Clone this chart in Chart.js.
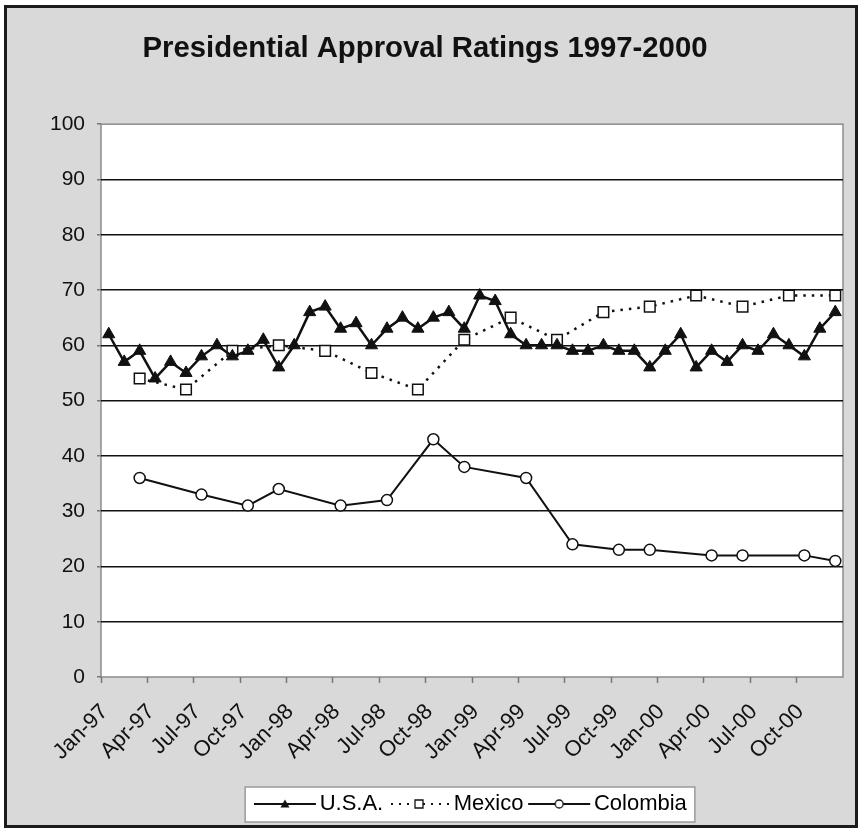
<!DOCTYPE html>
<html>
<head>
<meta charset="utf-8">
<title>Presidential Approval Ratings 1997-2000</title>
<script src="https://cdn.jsdelivr.net/npm/chart.js@4/dist/chart.umd.min.js"></script>
<style>
  html, body { margin: 0; padding: 0; background: #fff; }
  #frame {
    position: absolute; left: 4px; top: 5px;
    width: 848px; height: 817px;
    border: 3px solid #1b1b1b;
    background: #d9d9d9;
  }
</style>
</head>
<body>
<div id="frame"><canvas id="myChart"></canvas></div>
<script>
let monthLabels = [
  'Jan-97', 'Feb-97', 'Mar-97', 'Apr-97', 'May-97', 'Jun-97', 'Jul-97', 'Aug-97', 'Sep-97', 'Oct-97', 'Nov-97', 'Dec-97',
  'Jan-98', 'Feb-98', 'Mar-98', 'Apr-98', 'May-98', 'Jun-98', 'Jul-98', 'Aug-98', 'Sep-98', 'Oct-98', 'Nov-98', 'Dec-98',
  'Jan-99', 'Feb-99', 'Mar-99', 'Apr-99', 'May-99', 'Jun-99', 'Jul-99', 'Aug-99', 'Sep-99', 'Oct-99', 'Nov-99', 'Dec-99',
  'Jan-00', 'Feb-00', 'Mar-00', 'Apr-00', 'May-00', 'Jun-00', 'Jul-00', 'Aug-00', 'Sep-00', 'Oct-00', 'Nov-00', 'Dec-00'
];
let xTickLabels = ['Jan-97', 'Apr-97', 'Jul-97', 'Oct-97', 'Jan-98', 'Apr-98', 'Jul-98', 'Oct-98',
  'Jan-99', 'Apr-99', 'Jul-99', 'Oct-99', 'Jan-00', 'Apr-00', 'Jul-00', 'Oct-00'];

// U.S.A. - monthly
let usaRatings = [62, 57, 59, 54, 57, 55, 58, 60, 58, 59, 61, 56,
  60, 66, 67, 63, 64, 60, 63, 65, 63, 65, 66, 63,
  69, 68, 62, 60, 60, 60, 59, 59, 60, 59, 59, 56,
  59, 62, 56, 59, 57, 60, 59, 62, 60, 58, 63, 66];

// Mexico - quarterly
let mexicoMonths = ['Mar-97', 'Jun-97', 'Sep-97', 'Dec-97', 'Mar-98', 'Jun-98', 'Sep-98', 'Dec-98',
  'Mar-99', 'Jun-99', 'Sep-99', 'Dec-99', 'Mar-00', 'Jun-00', 'Sep-00', 'Dec-00'];
let mexicoRatings = [54, 52, 59, 60, 59, 55, 52, 61, 65, 61, 66, 67, 69, 67, 69, 69];

// Colombia - irregular polls
let colombiaMonths = ['Mar-97', 'Jul-97', 'Oct-97', 'Dec-97', 'Apr-98', 'Jul-98', 'Oct-98', 'Dec-98',
  'Apr-99', 'Jul-99', 'Oct-99', 'Dec-99', 'Apr-00', 'Jun-00', 'Oct-00', 'Dec-00'];
let colombiaRatings = [36, 33, 31, 34, 31, 32, 43, 38, 36, 24, 23, 23, 22, 22, 22, 21];

Chart.defaults.font.family = '"Liberation Sans", Arial, sans-serif';
Chart.defaults.color = '#111';

// little line + marker pictures for the legend, Excel style
// (70 wide, the line sits a bit right of centre so the text gap stays small)
function legendSample(kind) {
  const c = document.createElement('canvas');
  c.width = 70;
  c.height = 16;
  const g = c.getContext('2d');
  const x0 = 6, x1 = 68, mid = 37;
  g.strokeStyle = '#111';
  g.lineWidth = 2;
  if (kind === 'rect') g.setLineDash([2, 6]);
  g.beginPath();
  g.moveTo(kind === 'rect' ? x0 + 3 : x0, 8);
  g.lineTo(x1, 8);
  g.stroke();
  g.setLineDash([]);
  g.lineWidth = 1.3;
  g.beginPath();
  if (kind === 'triangle') {
    g.moveTo(mid, 3.5);
    g.lineTo(mid + 4.5, 11.5);
    g.lineTo(mid - 4.5, 11.5);
    g.closePath();
    g.fillStyle = '#111';
    g.fill();
  } else if (kind === 'rect') {
    g.fillStyle = '#fff';
    g.rect(mid - 4, 4, 8, 8);
    g.fill();
    g.stroke();
  } else {
    g.fillStyle = '#fff';
    g.arc(mid, 8, 4, 0, Math.PI * 2);
    g.fill();
    g.stroke();
  }
  return c;
}
const legendSamples = [legendSample('triangle'), legendSample('rect'), legendSample('circle')];

const plotBackground = {
  id: 'plotBackground',
  beforeDraw(chart) {
    const { ctx, chartArea: a, legend } = chart;
    ctx.save();
    ctx.fillStyle = '#fff';
    ctx.fillRect(a.left, a.top, a.width, a.height);
    ctx.strokeStyle = '#8c8c8c';
    ctx.lineWidth = 1.5;
    ctx.strokeRect(a.left, a.top, a.width, a.height);

    const boxes = legend.legendHitBoxes;
    if (boxes && boxes.length) {
      const left = Math.min(...boxes.map(b => b.left)) - 12;
      const right = Math.max(...boxes.map(b => b.left + b.width)) + 8;
      const top = boxes[0].top - 6;
      const bottom = boxes[0].top + boxes[0].height + 7;
      ctx.fillStyle = '#fff';
      ctx.fillRect(left, top, right - left, bottom - top);
      ctx.strokeStyle = '#9a9a9a';
      ctx.lineWidth = 1.5;
      ctx.strokeRect(left, top, right - left, bottom - top);
    }
    ctx.restore();
  }
};

const ctx = document.getElementById('myChart').getContext('2d');
const myChart = new Chart(ctx, {
  type: 'line',
  data: {
    labels: monthLabels,
    datasets: [
      {
        label: 'U.S.A.',
        data: usaRatings,
        borderColor: '#111',
        backgroundColor: '#111',
        borderWidth: 2.5,
        pointStyle: 'triangle',
        pointRadius: 7,
        pointBorderWidth: 1,
        pointBackgroundColor: '#111',
        pointBorderColor: '#111',
        fill: false,
      },
      {
        label: 'Mexico',
        data: mexicoMonths.map((m, i) => ({ x: m, y: mexicoRatings[i] })),
        borderColor: '#111',
        borderWidth: 2.5,
        borderDash: [2.5, 6],
        pointStyle: 'rect',
        pointRadius: 7.5,
        pointBorderWidth: 1.5,
        pointBackgroundColor: '#fff',
        pointBorderColor: '#111',
        fill: false,
      },
      {
        label: 'Colombia',
        data: colombiaMonths.map((m, i) => ({ x: m, y: colombiaRatings[i] })),
        borderColor: '#111',
        borderWidth: 2,
        pointStyle: 'circle',
        pointRadius: 5.5,
        pointBorderWidth: 1.5,
        pointBackgroundColor: '#fff',
        pointBorderColor: '#111',
        fill: false,
      },
    ]
  },
  options: {
    responsive: true,
    maintainAspectRatio: false,
    animation: false,
    events: [],
    layout: { padding: { left: 0, right: 12, top: 0, bottom: 0 } },
    scales: {
      x: {
        offset: true,
        grid: {
          offset: true,
          drawOnChartArea: false,
          tickLength: 6,
          tickWidth: 1.5,
          tickColor: (c) => (c.index % 3 === 0 ? '#777' : 'transparent'),
        },
        border: { display: false },
        ticks: {
          autoSkip: false,
          minRotation: 45,
          maxRotation: 45,
          padding: 16,
          labelOffset: -4,
          color: '#111',
          font: { size: 22 },
          callback: function (value) {
            const l = this.getLabelForValue(value);
            return xTickLabels.includes(l) ? l : '';
          }
        },
        afterFit: (scale) => {
          scale.height = 108;
          scale.paddingLeft = 0;
          scale.paddingRight = 0;
        }
      },
      y: {
        min: 0,
        max: 100,
        ticks: { stepSize: 10, padding: 12, color: '#111', font: { size: 21 } },
        grid: {
          color: (c) => (c.tick && (c.tick.value === 0 || c.tick.value === 100) ? 'transparent' : '#111'),
          lineWidth: 1.5,
          tickLength: 4,
          tickColor: '#777',
        },
        border: { display: false },
        afterFit: (scale) => { scale.width = 94; }
      }
    },
    plugins: {
      title: {
        display: true,
        text: 'Presidential Approval Ratings 1997-2000',
        color: '#111',
        font: { size: 29.3, weight: 'bold' },
        padding: { top: 23, bottom: 58 }
      },
      legend: {
        position: 'bottom',
        fullSize: false,
        labels: {
          usePointStyle: true,
          pointStyleWidth: 51.5,
          padding: 8,
          color: '#111',
          font: { size: 22 },
          generateLabels: (chart) => chart.data.datasets.map((ds, i) => ({
            text: ds.label,
            pointStyle: legendSamples[i],
            datasetIndex: i,
            fillStyle: '#111',
            strokeStyle: '#111',
            lineWidth: 0,
            hidden: false,
          }))
        }
      },
      tooltip: { enabled: false }
    }
  },
  plugins: [plotBackground]
});
</script>
</body>
</html>
